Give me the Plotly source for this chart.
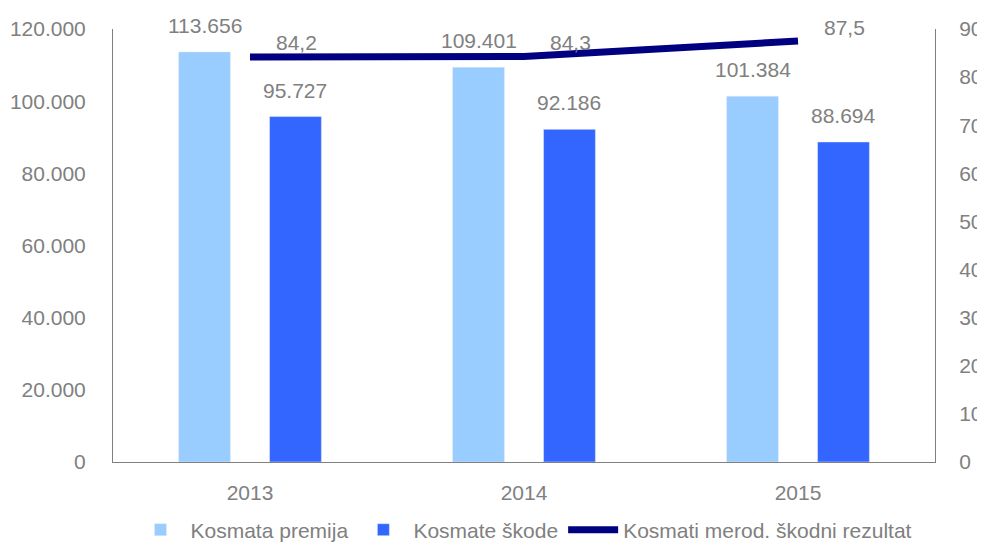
import plotly.graph_objects as go

years = ["2013", "2014", "2015"]
premija = [113656, 109401, 101384]
skode = [95727, 92186, 88694]
rezultat = [84.2, 84.3, 87.5]
left_ticks = [0, 20000, 40000, 60000, 80000, 100000, 120000]
left_tick_labels = ["0", "20.000", "40.000", "60.000", "80.000", "100.000", "120.000"]

FONT = "Liberation Sans, Arial, sans-serif"
GREY = "#808080"
FS = 21
BARGAP = 0.336
BARGROUPGAP = 0.43

# the page body keeps its default 8px margin, so the figure is 8px smaller
W, H = 977, 535


def fmt_int(v):
    return f"{v:,}".replace(",", ".")


fig = go.Figure()
fig.add_trace(go.Bar(
    x=years, y=premija, name="Kosmata premija",
    marker=dict(color="#99CCFF"),
))
fig.add_trace(go.Bar(
    x=years, y=skode, name="Kosmate škode",
    marker=dict(color="#3366FF"),
))
fig.add_trace(go.Scatter(
    x=years, y=rezultat, name="Kosmati merod. škodni rezultat",
    yaxis="y2", mode="lines", line=dict(color="#000080", width=7),
))

# bar value labels (offset of each bar inside its category group)
slot = (1 - BARGAP) / 2
for series, off in ((premija, -slot / 2), (skode, slot / 2)):
    for i, v in enumerate(series):
        fig.add_annotation(
            x=i + off, y=v, xref="x", yref="y", text=fmt_int(v),
            showarrow=False, xanchor="center", yanchor="bottom", yshift=13,
            font=dict(family=FONT, size=FS, color=GREY),
        )

for i, v in enumerate(rezultat):
    fig.add_annotation(
        x=i, y=v, xref="x", yref="y2", text=f"{v:.1f}".replace(".", ","),
        showarrow=False, xanchor="left", yanchor="middle",
        xshift=24, yshift=14,
        font=dict(family=FONT, size=FS, color=GREY),
    )

fig.update_layout(
    width=W, height=H,
    margin=dict(l=105, r=50, t=21, b=81),
    paper_bgcolor="white", plot_bgcolor="white",
    barmode="group", bargap=BARGAP, bargroupgap=BARGROUPGAP,
    font=dict(family=FONT, size=FS, color=GREY),
    showlegend=True,
    legend=dict(orientation="h", x=0.5, xanchor="center",
                yref="container", y=1 - 522 / H, yanchor="middle",
                bgcolor="rgba(0,0,0,0)",
                font=dict(family=FONT, size=21, color=GREY), itemwidth=50),
    xaxis=dict(type="category", range=[-0.5, 2.5], showline=True, linecolor=GREY,
               linewidth=1, ticks="outside", ticklen=12, tickcolor="rgba(0,0,0,0)",
               showgrid=False, automargin=False),
    yaxis=dict(range=[0, 120000], tickvals=left_ticks, ticktext=left_tick_labels,
               showline=True, linecolor=GREY, linewidth=1, showgrid=False,
               zeroline=False, ticks="outside", ticklen=22, tickcolor="rgba(0,0,0,0)",
               automargin=False),
    yaxis2=dict(range=[0, 90], dtick=10, overlaying="y", side="right",
                showline=True, linecolor=GREY, linewidth=1, showgrid=False,
                zeroline=False, ticks="outside", ticklen=19, tickcolor="rgba(0,0,0,0)",
                automargin=False),
)

fig.write_html("out.html")
